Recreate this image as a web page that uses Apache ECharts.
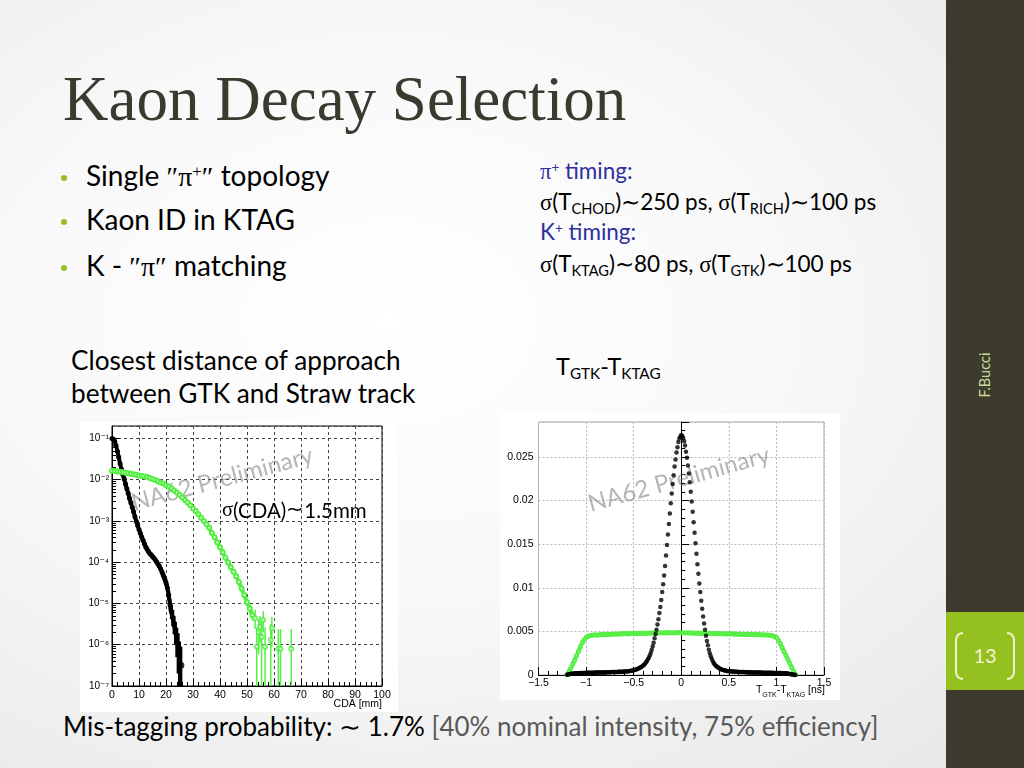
<!DOCTYPE html>
<html>
<head>
<meta charset="utf-8">
<script src="https://cdn.jsdelivr.net/npm/echarts@6/dist/echarts.min.js"></script>
<style>
  body { margin: 0; width: 1024px; height: 768px; overflow: hidden; position: relative;
    font-family: Lato, 'Noto Sans', sans-serif; color: #000;
    background: radial-gradient(ellipse at 38% 42%, #ffffff 0%, #f8f8f8 45%, #e6e6e6 100%); }
  .t { position: absolute; white-space: nowrap; line-height: 1; }
  .title { left: 63px; top: 68px; font-family: 'Liberation Serif', serif; font-size: 63px; color: #3b3a2f; }
  .bul { left: 86px; font-size: 28px; }
  .dot { position: absolute; left: 61px; width: 6px; height: 6px; border-radius: 50%; background: #94c11f; }
  .g { font-family: 'Liberation Serif', serif; }
  .rt { left: 540px; font-size: 22.5px; }
  .blue { color: #2f2fa0; }
  sub { font-size: 0.65em; vertical-align: -0.25em; line-height: 0; }
  sup { font-size: 0.6em; vertical-align: 0.55em; line-height: 0; }
  .side { position: absolute; left: 946px; top: 0; width: 78px; height: 768px; background: #3d3b2e; }
  .num { position: absolute; left: 946px; top: 612px; width: 78px; height: 78px; background: #94c11f; }
  .br { position: absolute; top: 20px; width: 6px; height: 44px; border: 2px solid #f3f0d0; }
  .chart { position: absolute; background: #fff; }
</style>
</head>
<body>
<div class="side"></div>
<div class="t" style="left:985px;top:375px;font-size:14.5px;color:#c9d89a;transform:translate(-50%,-50%) rotate(-90deg);">F.Bucci</div>
<div class="num">
  <div class="br" style="left:9px;border-right:none;border-radius:8px 0 0 8px;"></div>
  <div class="br" style="right:9px;border-left:none;border-radius:0 8px 8px 0;"></div>
  <div class="t" style="left:0;width:78px;text-align:center;top:33px;font-size:20px;color:#f3f0d0;">13</div>
</div>

<div class="t title">Kaon Decay Selection</div>

<div class="dot" style="top:175px"></div>
<div class="t bul" style="top:161px">Single <span class="g">″π<sup>+</sup>″</span> topology</div>
<div class="dot" style="top:219px"></div>
<div class="t bul" style="top:205px">Kaon ID in KTAG</div>
<div class="dot" style="top:265px"></div>
<div class="t bul" style="top:251px">K - <span class="g">″π″</span> matching</div>

<div class="t rt blue" style="top:160px"><span class="g">π</span><sup>+</sup> timing:</div>
<div class="t rt" style="top:191px"><span class="g">σ</span>(T<sub>CHOD</sub>)<span class="g">∼</span>250 ps, <span class="g">σ</span>(T<sub>RICH</sub>)<span class="g">∼</span>100 ps</div>
<div class="t rt blue" style="top:221px">K<sup>+</sup> timing:</div>
<div class="t rt" style="top:253px"><span class="g">σ</span>(T<sub>KTAG</sub>)<span class="g">∼</span>80 ps, <span class="g">σ</span>(T<sub>GTK</sub>)<span class="g">∼</span>100 ps</div>

<div class="t" style="left:71px;top:347px;font-size:26.2px;">Closest distance of approach</div>
<div class="t" style="left:71px;top:380px;font-size:26.2px;">between GTK and Straw track</div>
<div class="t" style="left:556px;top:355px;font-size:23.5px;">T<sub>GTK</sub>-T<sub>KTAG</sub></div>

<div class="t" style="left:63px;top:713px;font-size:26px;">Mis-tagging probability: <span class="g">∼</span> 1.7% <span style="color:#595959">[40% nominal intensity, 75% efficiency]</span></div>

<div id="cda" class="chart" style="left:80px;top:422px;width:318px;height:290px;"></div>
<div id="tdiff" class="chart" style="left:500px;top:413px;width:340px;height:287px;"></div>

<script>
// ---------- CDA plot (log y) ----------
const cdaBlackX = [0,0.5,1,1.5,2,2.5,3,3.5,4,4.5,5,5.5,6,6.5,7,7.5,8,8.5,9,9.5,10,10.5,11,11.5,12,12.5,13,13.5,14,14.5,15,15.5,16,16.5,17,17.5,18,18.5,19,19.5,20,20.5,21,21.5,22,22.5,23,23.5,24,24.5,25];
const cdaBlackY = [1.0e-1,9.5e-2,8.5e-2,6.6e-2,4.9e-2,3.5e-2,2.45e-2,1.78e-2,1.35e-2,1.05e-2,7.9e-3,6.0e-3,4.7e-3,3.5e-3,2.75e-3,2.15e-3,1.66e-3,1.26e-3,9.8e-4,7.8e-4,6.2e-4,5.0e-4,4.1e-4,3.4e-4,2.8e-4,2.35e-4,2.05e-4,1.82e-4,1.62e-4,1.51e-4,1.38e-4,1.26e-4,1.15e-4,1.02e-4,9.1e-5,8.1e-5,6.9e-5,5.8e-5,4.8e-5,4.0e-5,3.2e-5,2.4e-5,1.6e-5,9.3e-6,6.3e-6,4.5e-6,3.1e-6,2.0e-6,1.3e-6,8.3e-7,4.0e-7];
// [x, low, high]
const cdaBlackErr = [[18.5,5.0e-5,6.7e-5],[19,4.0e-5,5.7e-5],[19.5,3.3e-5,4.8e-5],[20,2.6e-5,3.9e-5],[20.5,1.9e-5,3.0e-5],[21,1.2e-5,2.1e-5],[21.5,6.5e-6,1.3e-5],[22,4.2e-6,9.2e-6],[22.5,2.8e-6,7e-6],[23,1.8e-6,5e-6],[23.5,1.0e-6,3.6e-6],[24,5e-7,2.6e-6],[24.5,2e-7,1.9e-6],[25,1e-8,1.2e-6],[25.5,1e-8,9e-7]];
const cdaBlackLast = [[25.5, 3.2e-7]];

const cdaGreenX = [0,1,2,3,4,5,6,7,8,9,10,11,12,13,14,15,16,17,18,19,20,21,22,23,24,25,26,27,28,29,30,31,32,33,34,35,36,37,38,39,40,41,42,43,44,45,46,47,48,49,50,51,52];
const cdaGreenY = [1.64e-2,1.62e-2,1.58e-2,1.55e-2,1.51e-2,1.48e-2,1.43e-2,1.40e-2,1.36e-2,1.32e-2,1.27e-2,1.23e-2,1.19e-2,1.16e-2,1.10e-2,1.035e-2,9.8e-3,9.1e-3,8.5e-3,8.1e-3,7.4e-3,6.8e-3,6.2e-3,5.5e-3,4.9e-3,4.3e-3,3.7e-3,3.2e-3,2.8e-3,2.4e-3,2.0e-3,1.74e-3,1.45e-3,1.2e-3,1.0e-3,8.3e-4,6.8e-4,5.1e-4,4.0e-4,3.0e-4,2.3e-4,1.74e-4,1.29e-4,9.8e-5,7.6e-5,5.9e-5,4.6e-5,3.3e-5,2.3e-5,1.6e-5,1.07e-5,7.6e-6,5.2e-6];
const cdaGreenErr = [[44,7.0e-5,8.2e-5],[45,5.4e-5,6.4e-5],[46,4.2e-5,5.0e-5],[47,2.9e-5,3.7e-5],[48,2.0e-5,2.6e-5],[49,1.35e-5,1.85e-5],[50,8.7e-6,1.3e-5],[51,5.9e-6,9.5e-6],[52,3.8e-6,6.8e-6]];
// sparse tail: [x, value, low, high]
const cdaGreenTail = [[53.0,4.4e-6,2.4e-6,7e-6],[53.6,9e-7,1e-8,2.6e-6],[54.3,2.0e-6,6e-7,4.2e-6],[54.8,2.7e-6,1.1e-6,5e-6],[55.4,1.55e-6,1e-8,3.6e-6],[56.0,4.0e-6,2e-6,6.5e-6],[56.7,9e-7,1e-8,2.6e-6],[58.8,1.3e-6,1e-8,3.2e-6],[59.2,2.5e-6,9e-7,4.8e-6],[61.6,8e-7,1e-8,2.4e-6],[62.4,8e-7,1e-8,2.4e-6],[66.4,8e-7,1e-8,2.4e-6]];

const cdaTop = Math.log10(0.2);

// ---------- T_GTK - T_KTAG plot ----------
const tBlackStart = -1.2, tBlackStep = 0.01;
// entries per bin, x 1e-4
const tBlackVals = [
  0.3,0.6,0.9,1.1,1.3,1.5,1.6,1.7,1.8,1.9,2.0,
  2.1,2.1,2.2,2.2,2.3,2.3,2.3,2.4,2.4,2.5,
  2.5,2.5,2.6,2.6,2.6,2.7,2.7,2.7,2.8,2.8,
  2.8,2.8,2.9,2.9,2.9,3.0,3.0,3.0,3.0,3.1,
  3.1,3.1,3.1,3.2,3.2,3.2,3.3,3.3,3.3,3.4,
  3.4,3.5,3.5,3.6,3.6,3.7,3.7,3.8,3.8,3.9,
  4.0,4.1,4.2,4.3,4.4,4.6,4.8,5.0,5.2,5.5,
  5.8,6.1,6.5,6.9,7.4,7.9,8.5,9.2,10,
  10.8,11.8,13,14.5,16,18,20,22.5,25.5,29,
  33,37,42,47,52,58,64,71,78,86,
  95,104,114,125,137,149,161,173,185,197,
  208,219,229,239,247,255,261,267,271,273,
  275,
  274,272,268,263,256,249,240,231,221,210,
  199,187,175,163,151,139,127,116,105,95,
  85,76,67,59,52,45,39,34,29,25,
  21.5,18.5,16,14,12.3,11,10,9.1,8.3,7.6,
  7.0,6.5,6.1,5.7,5.4,5.1,4.9,4.7,4.5,4.4,
  4.3,4.2,4.1,4.0,3.9,3.8,3.7,3.7,3.6,3.5,
  3.5,3.4,3.4,3.3,3.3,3.3,3.2,3.2,3.2,3.1,
  3.1,3.1,3.0,3.0,3.0,3.0,2.9,2.9,2.9,2.9,
  2.8,2.8,2.8,2.8,2.7,2.7,2.7,2.7,2.6,2.6,
  2.6,2.6,2.5,2.5,2.5,2.5,2.4,2.4,2.4,2.4,
  2.3,2.3,2.3,2.2,2.2,2.1,2.1,2.0,1.9,1.8,
  1.7,1.6,1.4,1.2,1.0,0.8,0.6,0.4,0.2,0.1
];
const tGreenStart = -1.2, tGreenStep = 0.02;
const tGreenVals = [
  0.3,4,8,12.5,17,22,27,32.5,37,40.5,43,44.5,45,45.5,
  45.8,46,45.7,46.2,46.4,46,46.6,46.3,46.8,46.5,
  46.9,46.6,47.1,46.8,47.3,46.9,47.2,47.5,47.0,47.4,
  47.6,47.2,47.8,47.4,47.9,47.5,48.0,47.6,47.9,48.2,
  47.8,48.3,47.9,48.4,48.0,48.5,48.1,48.4,48.0,48.6,
  48.2,48.5,48.1,48.6,48.3,48.7,48.2,48.5,48.1,48.4,
  48.0,48.3,47.9,48.2,47.8,48.1,47.7,48.0,47.6,47.9,
  47.5,47.8,47.4,47.7,47.3,47.6,47.2,47.5,47.1,47.4,
  47.0,47.3,46.9,47.2,46.8,47.0,46.6,46.9,46.5,46.8,
  46.4,46.7,46.3,46.6,46.2,46.4,46.0,46.3,45.9,46.1,
  45.8,45.9,45.5,45.3,45.0,
  44.2,43,40,36,31.5,27,22.5,18,13.5,9,4,0.3
];

const MINUS = '\u2212';
const SUPER = { '-': '\u207B', '1': '\u00B9', '2': '\u00B2', '3': '\u00B3', '4': '\u2074', '5': '\u2075', '6': '\u2076', '7': '\u2077' };
const axisFont = 'Liberation Sans, DejaVu Sans, Arial, sans-serif';
const GREEN = '#55ee44';

function logPts (xs, ys) {
  return xs.map((x, i) => [x, Math.log10(ys[i])]);
}
function errData (rows) {
  return rows.map(r => [r[0], Math.log10(r[r.length - 2]), Math.log10(r[r.length - 1])]);
}
function errBars (color, width) {
  return function (params, api) {
    const a = api.coord([api.value(0), api.value(1)]);
    const b = api.coord([api.value(0), api.value(2)]);
    return { type: 'line', shape: { x1: a[0], y1: a[1], x2: b[0], y2: b[1] }, style: { stroke: color, lineWidth: width } };
  };
}
function binned (start, step, vals) {
  return vals.map((v, i) => [+(start + i * step).toFixed(3), v * 1e-4]);
}
function powLabel (v) {
  return '10' + String(Math.round(v)).split('').map(c => SUPER[c]).join('');
}

// log minor tick positions (2..9 x 10^n)
const logMinor = [];
for (let n = -7; n <= -1; n++) {
  for (let k = 2; k <= 9; k++) {
    const p = n + Math.log10(k);
    if (p < cdaTop - 1e-6) logMinor.push(p);
  }
}

const cdaChart = echarts.init(document.getElementById('cda'));
cdaChart.setOption({
  animation: false,
  grid: { left: 32, top: 4, width: 270, height: 260, show: true, borderColor: '#000', borderWidth: 1 },
  xAxis: {
    type: 'value', min: 0, max: 100, interval: 10,
    axisLine: { lineStyle: { color: '#000' } },
    axisTick: { inside: true, length: 8, lineStyle: { color: '#000' } },
    minorTick: { show: true, splitNumber: 5, length: 4, lineStyle: { color: '#000' } },
    splitLine: { show: true, lineStyle: { color: '#444', type: [3, 3] } },
    axisLabel: { color: '#000', fontSize: 10.5, fontFamily: axisFont, margin: 4 }
  },
  yAxis: [{
    type: 'value', min: -7, max: cdaTop, interval: 1,
    axisLine: { show: true, lineStyle: { color: '#000' } },
    axisTick: { show: true, inside: true, length: 8, lineStyle: { color: '#000' } },
    splitLine: { show: true, lineStyle: { color: '#444', type: [3, 3] } },
    axisLabel: { showMaxLabel: false, margin: 3, color: '#000', fontSize: 10, fontFamily: axisFont, formatter: powLabel }
  }, {
    type: 'value', min: -7, max: cdaTop, position: 'left',
    axisLine: { show: false }, splitLine: { show: false }, axisLabel: { show: false },
    axisTick: { show: true, inside: true, length: 4, customValues: logMinor, lineStyle: { color: '#000' } }
  }],
  graphic: [
    { type: 'text', z: 1, x: 55, y: 93, rotation: 15 * Math.PI / 180,
      style: { text: 'NA62 Preliminary', font: '24px Lato, sans-serif', fill: 'rgba(120,120,120,0.55)', verticalAlign: 'bottom' } },
    { type: 'text', z: 100, x: 142, y: 89,
      style: { text: '{g|σ}(CDA){g|∼}1.5mm', font: '20.5px Lato, sans-serif', fill: '#000', verticalAlign: 'middle',
        rich: { g: { fontFamily: 'Liberation Serif, serif', fontSize: 20.5 } } } },
    { type: 'text', z: 100, right: 16, top: 277,
      style: { text: 'CDA [mm]', font: '10.5px ' + axisFont, fill: '#000' } }
  ],
  series: [
    { type: 'line', data: logPts(cdaBlackX, cdaBlackY), symbol: 'circle', symbolSize: 5, z: 3,
      lineStyle: { color: '#000', width: 4 }, itemStyle: { color: '#000' } },
    { type: 'custom', data: errData(cdaBlackErr), renderItem: errBars('#000', 3), clip: true, z: 3 },
    { type: 'scatter', data: cdaBlackLast.map(p => [p[0], Math.log10(p[1])]), symbolSize: 7, itemStyle: { color: '#000' }, z: 3 },
    { type: 'line', data: logPts(cdaGreenX, cdaGreenY), symbol: 'emptyCircle', symbolSize: 4, z: 4,
      lineStyle: { color: GREEN, width: 4 }, itemStyle: { color: GREEN } },
    { type: 'custom', data: errData(cdaGreenErr), renderItem: errBars(GREEN, 1.5), clip: true, z: 4 },
    { type: 'custom', data: errData(cdaGreenTail), renderItem: errBars(GREEN, 1.5), clip: true, z: 4 },
    { type: 'scatter', data: cdaGreenTail.map(r => [r[0], Math.log10(r[1])]), symbol: 'emptyCircle', symbolSize: 4,
      itemStyle: { color: GREEN, borderColor: GREEN }, z: 4 }
  ]
});

const tChart = echarts.init(document.getElementById('tdiff'));
tChart.setOption({
  animation: false,
  grid: { left: 38.5, top: 9, width: 285.5, height: 253, show: true, borderColor: '#aaa', borderWidth: 1 },
  xAxis: {
    type: 'value', min: -1.5, max: 1.5, interval: 0.5,
    axisLine: { lineStyle: { color: '#000' } },
    axisTick: { inside: true, length: 8, lineStyle: { color: '#000' } },
    minorTick: { show: true, splitNumber: 5, length: 4, lineStyle: { color: '#000' } },
    splitLine: { show: true, lineStyle: { color: '#bbb', type: [2, 2] } },
    axisLabel: { color: '#000', fontSize: 10.5, fontFamily: axisFont, margin: 3,
      formatter: v => String(v).replace('-', MINUS) }
  },
  yAxis: {
    type: 'value', min: 0, max: 0.029, interval: 0.005,
    axisLine: { show: true, lineStyle: { color: '#000' } },
    axisTick: { inside: true, length: 8, lineStyle: { color: '#000' } },
    minorTick: { show: true, splitNumber: 5, length: 4, lineStyle: { color: '#000' } },
    splitLine: { show: true, lineStyle: { color: '#bbb', type: [2, 2] } },
    axisLabel: { color: '#000', fontSize: 10.5, fontFamily: axisFont, margin: 5, showMaxLabel: false,
      formatter: v => v === 0 ? '0' : String(parseFloat(v.toFixed(3))) }
  },
  graphic: [
    { type: 'text', z: 1, x: 92, y: 103, rotation: 15.5 * Math.PI / 180,
      style: { text: 'NA62 Preliminary', font: '24px Lato, sans-serif', fill: 'rgba(120,120,120,0.55)', verticalAlign: 'bottom' } },
    { type: 'text', z: 100, x: 325, y: 279,
      style: { text: '{n|T}{d|GTK}{n|-T}{d|KTAG}{n| [ns]}', align: 'right', verticalAlign: 'middle',
        rich: {
          n: { fontSize: 10.5, fontFamily: axisFont, color: '#000', lineHeight: 14, verticalAlign: 'top' },
          d: { fontSize: 7, fontFamily: axisFont, color: '#000', lineHeight: 8, verticalAlign: 'bottom' }
        } } }
  ],
  series: [
    { type: 'line', data: binned(tGreenStart, tGreenStep, tGreenVals), symbol: 'emptyCircle', symbolSize: 3,
      lineStyle: { color: GREEN, width: 4 }, itemStyle: { color: GREEN }, z: 3 },
    { type: 'scatter', data: binned(tBlackStart, tBlackStep, tBlackVals), symbolSize: 4.5,
      itemStyle: { color: '#000' }, z: 4 }
  ]
});
</script>
</body>
</html>
